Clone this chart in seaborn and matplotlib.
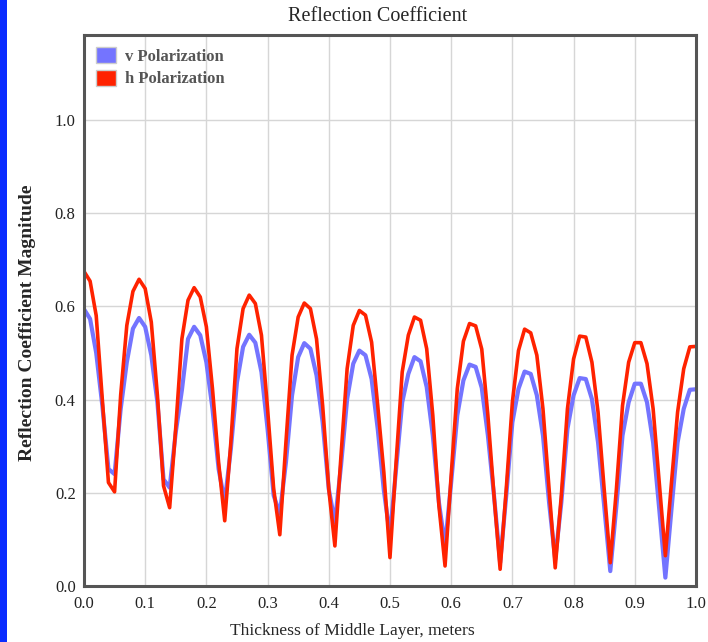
import numpy as np
import pandas as pd
import matplotlib
matplotlib.use("Agg")
import matplotlib.pyplot as plt
from matplotlib.patches import Patch, Rectangle
import seaborn as sns

# Datos (paso de 0.01 m)
espesor = np.round(np.linspace(0.0, 1.0, 101), 2)

v_pol = [
    0.594, 0.573, 0.500, 0.387, 0.251, 0.240, 0.380, 0.480, 0.552, 0.575,
    0.556, 0.495, 0.394, 0.229, 0.211, 0.330, 0.420, 0.530, 0.556, 0.538,
    0.480, 0.380, 0.251, 0.180, 0.294, 0.437, 0.513, 0.539, 0.522, 0.459,
    0.337, 0.194, 0.155, 0.265, 0.409, 0.491, 0.521, 0.509, 0.452, 0.351,
    0.208, 0.136, 0.258, 0.401, 0.477, 0.505, 0.495, 0.444, 0.337, 0.205,
    0.108, 0.251, 0.394, 0.455, 0.491, 0.482, 0.427, 0.323, 0.179, 0.086,
    0.222, 0.366, 0.441, 0.475, 0.470, 0.425, 0.323, 0.194, 0.050, 0.194,
    0.351, 0.423, 0.460, 0.455, 0.409, 0.323, 0.179, 0.057, 0.179, 0.337,
    0.409, 0.446, 0.444, 0.401, 0.308, 0.172, 0.032, 0.172, 0.323, 0.394,
    0.434, 0.434, 0.394, 0.308, 0.165, 0.018, 0.165, 0.308, 0.380, 0.421,
    0.422,
]

h_pol = [
    0.675, 0.654, 0.580, 0.400, 0.222, 0.202, 0.410, 0.559, 0.632, 0.658,
    0.638, 0.566, 0.409, 0.215, 0.168, 0.340, 0.530, 0.613, 0.640, 0.620,
    0.556, 0.423, 0.265, 0.140, 0.308, 0.509, 0.595, 0.624, 0.606, 0.538,
    0.380, 0.208, 0.110, 0.308, 0.495, 0.577, 0.607, 0.595, 0.530, 0.387,
    0.208, 0.086, 0.280, 0.466, 0.559, 0.591, 0.581, 0.523, 0.387, 0.244,
    0.061, 0.265, 0.459, 0.538, 0.577, 0.570, 0.509, 0.366, 0.172, 0.043,
    0.237, 0.423, 0.525, 0.563, 0.558, 0.508, 0.366, 0.194, 0.036, 0.208,
    0.394, 0.505, 0.551, 0.543, 0.495, 0.380, 0.208, 0.039, 0.194, 0.380,
    0.487, 0.536, 0.534, 0.480, 0.373, 0.208, 0.050, 0.208, 0.387, 0.480,
    0.522, 0.522, 0.477, 0.380, 0.222, 0.065, 0.222, 0.373, 0.466, 0.513,
    0.514,
]

series = ["v Polarization", "h Polarization"]
colores = {"v Polarization": "#7474FF", "h Polarization": "#FF2200"}

df = pd.DataFrame({
    "thickness": np.concatenate([espesor, espesor]),
    "magnitude": v_pol + h_pol,
    "serie": [series[0]] * len(v_pol) + [series[1]] * len(h_pol),
})

# Estética
sns.set_style("white")
plt.rcParams["font.family"] = ["Liberation Serif", "DejaVu Serif"]

fig = plt.figure(figsize=(7.08, 6.42), dpi=100)
ax = fig.add_axes([0.1186, 0.0872, 0.8644, 0.8583])

# barra azul del borde izquierdo
fig.patches.append(Rectangle((0, 0), 0.0105, 1, transform=fig.transFigure,
                             facecolor="#0A2CFF", edgecolor="none", zorder=0))

sns.lineplot(data=df[df["serie"] == series[0]], x="thickness", y="magnitude",
             color=colores[series[0]], linewidth=3.0, ax=ax, legend=False)
sns.lineplot(data=df[df["serie"] == series[1]], x="thickness", y="magnitude",
             color=colores[series[1]], linewidth=2.6, ax=ax, legend=False)

ax.set_xlim(0, 1.0)
ax.set_ylim(0, 1.182)
ax.set_xticks(np.arange(0, 1.01, 0.1))
ax.set_yticks(np.arange(0, 1.01, 0.2))
ax.set_xticklabels([f"{t:.1f}" for t in np.arange(0, 1.01, 0.1)])
ax.set_yticklabels([f"{t:.1f}" for t in np.arange(0, 1.01, 0.2)])
ax.tick_params(length=0, labelsize=12, colors="#222222")
ax.tick_params(axis="x", pad=7)
ax.tick_params(axis="y", pad=6)
ax.grid(True, color="#D6D6D6", linewidth=1.0)
ax.set_axisbelow(True)
for s in ax.spines.values():
    s.set_color("#555555")
    s.set_linewidth(2.2)

ax.set_title("Reflection Coefficient", fontsize=14.5, pad=10, x=0.479)
ax.set_xlabel("Thickness of Middle Layer, meters", fontsize=12.6)
ax.set_ylabel("Reflection Coefficient Magnitude", fontsize=14,
              fontweight="bold")
ax.xaxis.set_label_coords(0.438, -0.068)
ax.yaxis.set_label_coords(-0.078, 0.477)

handles = [Patch(facecolor=colores[s], edgecolor="#CCCCCC", linewidth=1.0)
           for s in series]
leg = ax.legend(handles, series, loc="upper left", frameon=False,
                handlelength=1.2, handleheight=1.15, handletextpad=0.55,
                labelspacing=0.3, borderaxespad=0.3,
                prop={"weight": "bold", "size": 12})
for t in leg.get_texts():
    t.set_color("#555555")

fig.savefig("out.png", dpi=100)
